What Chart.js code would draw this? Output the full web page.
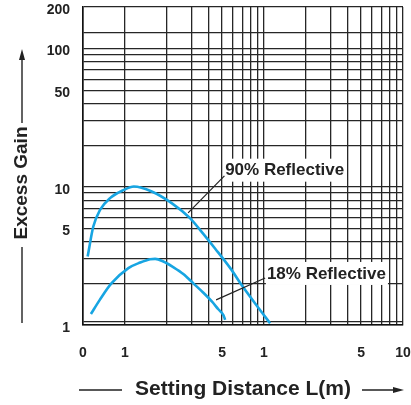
<!DOCTYPE html>
<html>
<head>
<meta charset="utf-8">
<script src="https://cdn.jsdelivr.net/npm/chart.js@4"></script>
<style>
html,body{margin:0;padding:0;background:#fff;}
</style>
</head>
<body>
<canvas id="myChart" width="411" height="405"></canvas>
<script>
// curves (distance in m, excess gain)
const dist90 = [0.054,0.0593,0.0663,0.0782,0.0975,0.116,0.156,0.217,0.294,0.347,0.445,0.571,0.708,0.878,1.107];
const gain90 = [3.13,5.16,6.81,8.28,9.45,10.05,9.25,7.62,5.93,4.88,3.58,2.59,1.88,1.40,1.03];
const dist18 = [0.057,0.066,0.08,0.106,0.129,0.152,0.165,0.189,0.223,0.263,0.311,0.367,0.422,0.47,0.511,0.526];
const gain18 = [1.2,1.52,2.0,2.58,2.83,2.99,3.01,2.88,2.62,2.34,2.0,1.71,1.48,1.30,1.18,1.09];

// grid lines and tick labels
const xGrid = [0.05,0.1,0.2,0.3,0.4,0.5,0.6,0.7,0.8,0.9,1,2,3,4,5,6,7,8,9,10];
const xTickVals = [0.05,0.1,0.5,1,5,10];
const xTickText = ["0","1","5","1","5","10"];
const yGrid = [1,1.05,2,3,4,5,6,7,8,9,10,20,30,40,50,60,70,80,90,100,130,200];
const yTickVals = [1,5,10,50,100,200];
const yTickText = ["1","5","10","50","100","200"];

// callouts: text, text anchor (left/middle), leader start, leader end
const noteText = ["90% Reflective","18% Reflective"];
const noteAt = [[0.526,13.3],[1.05,2.38]];
const noteFrom = [[0.52,12.0],[1.02,2.19]];
const noteTo = [[0.285,6.48],[0.453,1.52]];

const FONT = "'Liberation Sans', Arial, sans-serif";
const lineColor = "#17a5e2";
const gridColor = "#262626";

function pick(v, vals, text){
  for (let i = 0; i < vals.length; i++) {
    if (Math.abs(v - vals[i]) < 1e-9) return text[i];
  }
  return "";
}

const decor = {
  id: "decor",
  afterDatasetsDraw(chart){
    const c = chart.ctx;
    const xs = chart.scales.x, ys = chart.scales.y;
    c.save();
    // callouts
    c.font = "bold 17px " + FONT;
    c.textBaseline = "middle";
    c.textAlign = "left";
    noteText.forEach((t, i) => {
      const tx = xs.getPixelForValue(noteAt[i][0]);
      const ty = ys.getPixelForValue(noteAt[i][1]);
      const w = c.measureText(t).width;
      c.fillStyle = "#fff";
      c.fillRect(tx - 1, ty - 11, w + 3, 23);
      c.fillStyle = "#222";
      c.fillText(t, tx, ty + 1);
      c.strokeStyle = "#222";
      c.lineWidth = 1.2;
      c.beginPath();
      c.moveTo(xs.getPixelForValue(noteFrom[i][0]), ys.getPixelForValue(noteFrom[i][1]));
      c.lineTo(xs.getPixelForValue(noteTo[i][0]), ys.getPixelForValue(noteTo[i][1]));
      c.stroke();
    });

    // y title with arrow
    c.fillStyle = "#222";
    c.strokeStyle = "#222";
    c.lineWidth = 1.4;
    c.save();
    c.translate(21, 183);
    c.rotate(-Math.PI / 2);
    c.font = "bold 19px " + FONT;
    c.textAlign = "center";
    c.fillText("Excess Gain", 0, 1);
    c.restore();
    c.beginPath();
    c.moveTo(22, 323); c.lineTo(22, 247);
    c.moveTo(22, 123); c.lineTo(22, 58);
    c.stroke();
    c.beginPath();
    c.moveTo(22, 49); c.lineTo(19, 60); c.lineTo(25, 60); c.closePath();
    c.fill();

    // x title with arrow
    c.font = "bold 21px " + FONT;
    c.textAlign = "center";
    c.fillText("Setting Distance L(m)", 243, 389);
    c.beginPath();
    c.moveTo(79, 390); c.lineTo(122, 390);
    c.moveTo(362, 390); c.lineTo(395, 390);
    c.stroke();
    c.beginPath();
    c.moveTo(404, 390); c.lineTo(393, 387); c.lineTo(393, 393); c.closePath();
    c.fill();
    c.restore();
  }
};

const ctx = document.getElementById("myChart");

new Chart(ctx, {
  type: "line",
  data: {
    datasets: [{
      label: "90% Reflective",
      data: dist90.map((x, i) => ({x: x, y: gain90[i]})),
      borderColor: lineColor,
      borderWidth: 2.6,
      pointRadius: 0,
      cubicInterpolationMode: "monotone",
      fill: false
    },{
      label: "18% Reflective",
      data: dist18.map((x, i) => ({x: x, y: gain18[i]})),
      borderColor: lineColor,
      borderWidth: 2.6,
      pointRadius: 0,
      cubicInterpolationMode: "monotone",
      fill: false
    }]
  },
  options: {
    responsive: false,
    animation: false,
    layout: {padding: {top: 7, right: 8, left: 0, bottom: 0}},
    plugins: {legend: {display: false}, tooltip: {enabled: false}},
    scales: {
      x: {
        type: "logarithmic",
        min: 0.05,
        max: 10,
        afterBuildTicks: s => { s.ticks = xGrid.map(v => ({value: v})); },
        afterFit: s => { s.height = 80; s.paddingLeft = 0; s.paddingRight = 0; },
        grid: {color: gridColor, lineWidth: 1.3, drawTicks: false},
        border: {color: "#111", width: 1.6},
        ticks: {
          autoSkip: false, maxRotation: 0, padding: 20, color: "#222",
          font: {family: FONT, size: 14, weight: "bold"},
          callback: v => pick(v, xTickVals, xTickText)
        }
      },
      y: {
        type: "logarithmic",
        min: 1,
        max: 200,
        afterBuildTicks: s => { s.ticks = yGrid.map(v => ({value: v})); },
        afterFit: s => { s.width = 83; s.paddingTop = 0; s.paddingBottom = 0; },
        grid: {color: gridColor, lineWidth: 1.3, drawTicks: false},
        border: {color: "#111", width: 1.6},
        ticks: {
          autoSkip: false, padding: 13, color: "#222", labelOffset: 3,
          font: {family: FONT, size: 14, weight: "bold"},
          callback: v => pick(v, yTickVals, yTickText)
        }
      }
    }
  },
  plugins: [decor]
});
</script>
</body>
</html>
